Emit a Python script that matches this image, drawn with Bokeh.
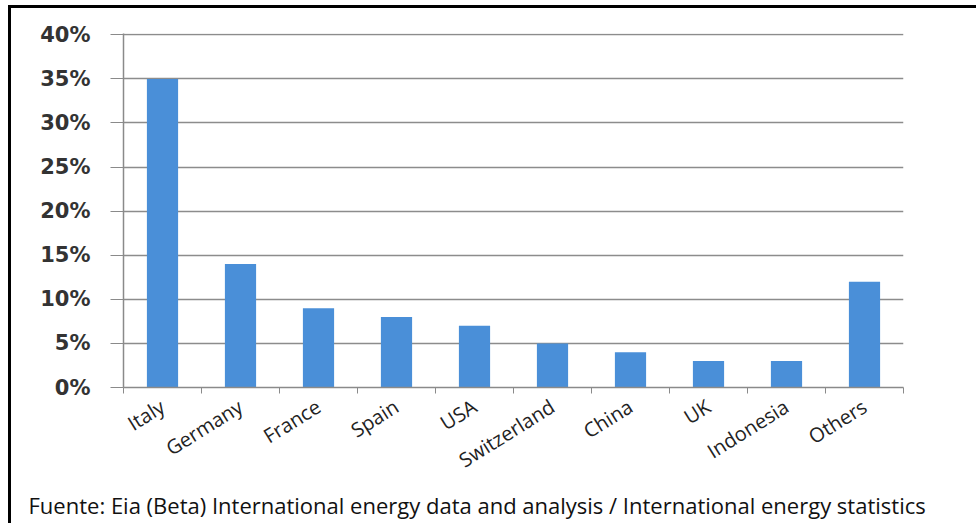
import math
from bokeh.plotting import figure
from bokeh.models import Range1d, FixedTicker, PrintfTickFormatter, Title
from bokeh.embed import file_html
from bokeh.resources import INLINE

countries = ["Italy", "Germany", "France", "Spain", "USA", "Switzerland",
             "China", "UK", "Indonesia", "Others"]
shares = [35, 14, 9, 8, 7, 5, 4, 3, 3, 12]
y_ticks = [0, 5, 10, 15, 20, 25, 30, 35, 40]
source_text = ("Fuente: Eia (Beta) International energy data and analysis / "
               "International energy statistics")

n = len(countries)
centers = [i + 0.5 for i in range(n)]
bounds = list(range(n + 1))

p = figure(width=968, height=518, output_backend="svg", toolbar_location=None,
           x_range=Range1d(0, n), y_range=Range1d(0, 40.15),
           min_border_left=112, min_border_right=76,
           min_border_top=25, min_border_bottom=139,
           background_fill_color="white", border_fill_color="white")
p.outline_line_color = None
p.styles = {"border-top": "3px solid black", "border-left": "3px solid black",
            "margin-top": "5px", "margin-left": "8px"}

p.vbar(x=centers, top=shares, width=0.4, color="#4a8fd8", line_color=None)

# x axis
xa = p.xaxis[0]
xa.ticker = FixedTicker(ticks=centers, minor_ticks=bounds)
xa.major_label_overrides = {c: name for c, name in zip(centers, countries)}
xa.major_tick_line_color = None
xa.minor_tick_line_color = "#8a8a8a"
xa.minor_tick_out = 6
xa.minor_tick_in = 0
xa.axis_line_color = "#8a8a8a"
xa.axis_line_width = 1.5
xa.major_label_orientation = math.radians(32)
xa.major_label_standoff = 11
xa.major_label_text_font = "Open Sans"
xa.major_label_text_font_size = "20px"
xa.major_label_text_color = "#222222"

# y axis
ya = p.yaxis[0]
ya.ticker = FixedTicker(ticks=y_ticks)
ya.formatter = PrintfTickFormatter(format="%d%%")
ya.major_tick_line_color = "#8a8a8a"
ya.major_tick_out = 13
ya.major_tick_in = 0
ya.minor_tick_line_color = None
ya.axis_line_color = "#8a8a8a"
ya.axis_line_width = 1.5
ya.major_label_standoff = 20
ya.major_label_text_font = "DejaVu Sans"
ya.major_label_text_font_size = "21px"
ya.major_label_text_font_style = "bold"
ya.major_label_text_color = "#333333"

p.xgrid.grid_line_color = None
p.ygrid.grid_line_color = "#8c8c8c"
p.ygrid.grid_line_width = 1.5
p.ygrid.ticker = FixedTicker(ticks=y_ticks)

t = Title(text=source_text, align="left", text_font="Open Sans",
          text_font_size="22px", text_font_style="normal",
          text_color="#111111", offset=-95, standoff=0)
p.add_layout(t, "below")

open("out.html", "w").write(file_html(p, INLINE))
